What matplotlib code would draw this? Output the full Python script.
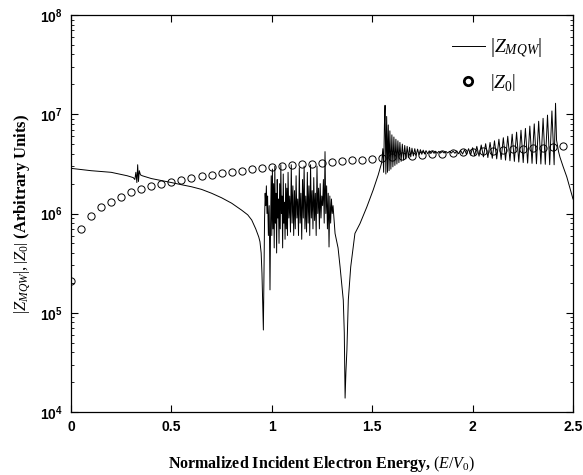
import numpy as np
import matplotlib
matplotlib.use("Agg")
import matplotlib.pyplot as plt
from matplotlib.lines import Line2D
from matplotlib.ticker import LogLocator, NullFormatter, FixedLocator

# ---------------- data ----------------
# |Z_0| open circles
z0_energy = [0.00, 0.05, 0.10, 0.15, 0.20, 0.25, 0.30, 0.35, 0.40, 0.45,
             0.50, 0.55, 0.60, 0.65, 0.70, 0.75, 0.80, 0.85, 0.90, 0.95,
             1.00, 1.05, 1.10, 1.15, 1.20, 1.25, 1.30, 1.35, 1.40, 1.45,
             1.50, 1.55, 1.60, 1.65, 1.70, 1.75, 1.80, 1.85, 1.90, 1.95,
             2.00, 2.05, 2.10, 2.15, 2.20, 2.25, 2.30, 2.35, 2.40, 2.45]
z0_values = [2.1e5, 6.9e5, 9.5e5, 1.15e6, 1.32e6, 1.48e6, 1.63e6, 1.76e6, 1.88e6, 1.99e6,
             2.09e6, 2.2e6, 2.3e6, 2.4e6, 2.47e6, 2.55e6, 2.63e6, 2.7e6, 2.8e6, 2.85e6,
             2.95e6, 3.0e6, 3.06e6, 3.12e6, 3.18e6, 3.24e6, 3.3e6, 3.36e6, 3.42e6, 3.5e6,
             3.57e6, 3.63e6, 3.7e6, 3.76e6, 3.82e6, 3.88e6, 3.94e6, 4.0e6, 4.06e6, 4.12e6,
             4.18e6, 4.24e6, 4.3e6, 4.36e6, 4.42e6, 4.5e6, 4.56e6, 4.62e6, 4.7e6, 4.8e6]

# |Z_MQW| : smooth part with small glitch, down to first dip
mqw_e_low = [0.00, 0.10, 0.20, 0.28, 0.310, 0.318, 0.323, 0.328, 0.332, 0.336,
             0.340, 0.346, 0.355, 0.40, 0.45, 0.50, 0.55, 0.60,
             0.65, 0.70, 0.75, 0.80, 0.85, 0.88, 0.90, 0.92, 0.935, 0.941,
             0.947, 0.951, 0.955, 0.958]
mqw_z_low = [2.85e6, 2.7e6, 2.6e6, 2.4e6, 2.3e6, 2.2e6, 2.6e6, 2.05e6, 3.1e6, 2.1e6,
             2.7e6, 2.45e6, 2.4e6, 2.25e6, 2.15e6, 2.05e6, 1.95e6, 1.86e6,
             1.75e6, 1.6e6, 1.44e6, 1.27e6, 1.08e6, 9.7e5, 8.6e5, 7.0e5, 5.8e5, 5.2e5,
             4.0e5, 2.5e5, 1.2e5, 6.7e4]

# |Z_MQW| : irregular oscillations between the two dips
mqw_e_noise = [0.961, 0.964, 0.967, 0.970, 0.973, 0.976, 0.979, 0.983, 0.987, 0.991,
               0.994, 0.997, 1.000, 1.003, 1.006, 1.009, 1.012, 1.015, 1.018, 1.021,
               1.024, 1.027, 1.030, 1.033, 1.036, 1.039, 1.042, 1.045, 1.048, 1.051,
               1.054, 1.057, 1.060, 1.063, 1.066, 1.069, 1.072, 1.075, 1.078, 1.081,
               1.085, 1.089, 1.093, 1.097, 1.101, 1.105, 1.109, 1.113, 1.117, 1.121,
               1.125, 1.129, 1.133, 1.137, 1.141, 1.145, 1.149, 1.153, 1.157, 1.161,
               1.165, 1.169, 1.173, 1.177, 1.181, 1.185, 1.189, 1.193, 1.197, 1.201,
               1.205, 1.209, 1.213, 1.217, 1.221, 1.225, 1.229, 1.233, 1.237, 1.241,
               1.245, 1.249, 1.253, 1.257, 1.261, 1.265, 1.269, 1.273, 1.277, 1.281,
               1.285, 1.289, 1.293, 1.297, 1.301, 1.305]
mqw_z_noise = [2.5e5, 9e5, 1.6e6, 1.2e6, 1.9e6, 1.0e6, 1.5e6, 6e5, 1.2e6, 1.7e5,
               8e5, 2.4e6, 6e5, 2.8e6, 7e5, 2.0e6, 4.5e5, 3.0e6, 8e5, 1.6e6,
               4e5, 2.2e6, 9e5, 1.4e6, 5e5, 2.0e6, 7e5, 3.1e6, 1.0e6, 1.5e6,
               4.5e5, 2.5e6, 8e5, 1.3e6, 5.5e5, 2.0e6, 7e5, 1.8e6, 6e5, 2.6e6,
               9e5, 1.5e6, 6.5e5, 3.1e6, 8e5, 1.9e6, 6e5, 1.7e6, 7e5, 2.4e6,
               9e5, 1.4e6, 6e5, 2.9e6, 8e5, 1.6e6, 5.5e5, 2.2e6, 9e5, 3.0e6,
               7e5, 1.5e6, 6.5e5, 2.6e6, 8e5, 1.9e6, 6e5, 3.1e6, 9e5, 1.7e6,
               7e5, 2.3e6, 8.5e5, 1.6e6, 6e5, 3.0e6, 1.0e6, 1.8e6, 7e5, 2.0e6,
               9e5, 1.5e6, 1.2e6, 2.2e6, 8e5, 4.2e6, 1.0e6, 1.9e6, 7e5, 1.6e6,
               4.6e5, 1.5e6, 8e5, 1.4e6, 1.0e6, 1.2e6]

# |Z_MQW| : second (deep) dip and rise
mqw_e_dip2 = [1.315, 1.330, 1.340, 1.356, 1.361, 1.365, 1.369, 1.374, 1.381, 1.393,
              1.414, 1.439, 1.473, 1.505, 1.530, 1.547]
mqw_z_dip2 = [6.3e5, 4.5e5, 2.9e5, 1.34e5, 6.3e4, 1.38e4, 2.5e4, 4.2e4, 1.34e5, 2.9e5,
              6.3e5, 7.9e5, 1.16e6, 1.73e6, 2.45e6, 3.24e6]

# |Z_MQW| : regular oscillations above the barrier
mqw_e_osc = [1.553, 1.557, 1.561, 1.564, 1.568, 1.572, 1.576, 1.580, 1.584, 1.588,
             1.593, 1.598, 1.603, 1.608, 1.613, 1.618, 1.623, 1.628, 1.633, 1.638,
             1.644, 1.650, 1.656, 1.662, 1.668, 1.674, 1.680, 1.686, 1.692, 1.698,
             1.705, 1.712, 1.719, 1.726, 1.733, 1.740, 1.747, 1.754, 1.761, 1.768,
             1.776, 1.784, 1.792, 1.800, 1.808, 1.816, 1.824, 1.832, 1.840, 1.849,
             1.858, 1.867, 1.876, 1.885, 1.894, 1.903, 1.912, 1.921, 1.930, 1.940,
             1.950, 1.960, 1.970, 1.980, 1.990, 2.000, 2.010, 2.021, 2.032, 2.043,
             2.054, 2.065, 2.076, 2.087, 2.098, 2.109, 2.120, 2.131, 2.142, 2.153,
             2.164, 2.175, 2.186, 2.197, 2.208, 2.219, 2.230, 2.241, 2.252, 2.263,
             2.274, 2.285, 2.296, 2.307, 2.318, 2.329, 2.340, 2.351, 2.362, 2.373,
             2.384, 2.395, 2.406, 2.413]
mqw_z_osc = [4.5e6, 2.6e6, 8e6, 1.23e7, 2.5e6, 9.5e6, 2.6e6, 7.8e6, 2.7e6, 6.8e6,
             2.8e6, 6.2e6, 2.95e6, 5.9e6, 3.05e6, 5.6e6, 3.15e6, 5.4e6, 3.25e6, 5.2e6,
             3.35e6, 5.0e6, 3.45e6, 4.85e6, 3.55e6, 4.75e6, 3.65e6, 4.65e6, 3.72e6, 4.55e6,
             3.8e6, 4.5e6, 3.85e6, 4.45e6, 3.9e6, 4.4e6, 3.95e6, 4.35e6, 3.98e6, 4.3e6,
             4.0e6, 4.28e6, 4.02e6, 4.25e6, 4.04e6, 4.24e6, 4.05e6, 4.23e6, 4.06e6, 4.22e6,
             4.07e6, 4.22e6, 4.07e6, 4.23e6, 4.06e6, 4.25e6, 4.04e6, 4.28e6, 4.0e6, 4.33e6,
             3.97e6, 4.4e6, 3.93e6, 4.5e6, 3.88e6, 4.6e6, 3.83e6, 4.75e6, 3.78e6, 4.9e6,
             3.72e6, 5.05e6, 3.66e6, 5.2e6, 3.6e6, 5.4e6, 3.55e6, 5.6e6, 3.5e6, 5.8e6,
             3.45e6, 6.0e6, 3.4e6, 6.3e6, 3.35e6, 6.6e6, 3.3e6, 6.9e6, 3.26e6, 7.2e6,
             3.22e6, 7.6e6, 3.2e6, 8.0e6, 3.17e6, 8.5e6, 3.15e6, 9.1e6, 3.13e6, 9.8e6,
             3.1e6, 1.08e7, 3.1e6, 1.29e7]

# |Z_MQW| : tail
mqw_e_tail = [2.418, 2.428, 2.435, 2.450, 2.469, 2.485, 2.500]
mqw_z_tail = [5.5e6, 4.2e6, 3.7e6, 3.0e6, 2.34e6, 1.8e6, 1.4e6]

x_ticks = [0, 0.5, 1, 1.5, 2, 2.5]
x_tick_labels = ["0", "0.5", "1", "1.5", "2", "2.5"]

# ---------------- plotting ----------------
mqw_e = mqw_e_low + mqw_e_noise + mqw_e_dip2 + mqw_e_osc + mqw_e_tail
mqw_z = mqw_z_low + mqw_z_noise + mqw_z_dip2 + mqw_z_osc + mqw_z_tail

plt.rcParams["mathtext.fontset"] = "custom"
plt.rcParams["mathtext.rm"] = "Liberation Serif"
plt.rcParams["mathtext.it"] = "Liberation Serif:italic"
plt.rcParams["mathtext.bf"] = "Liberation Serif:bold"

fig = plt.figure(figsize=(5.83, 4.75), dpi=100)
ax = fig.add_axes([71/583, 1-412/475, (573-71)/583, (412-15)/475])

ax.plot(mqw_e, mqw_z, color="black", lw=0.7)
ax.plot(z0_energy, z0_values, linestyle="none", marker="o", ms=5.2,
        mfc="none", mec="black", mew=0.7)

ax.set_yscale("log")
ax.set_xlim(0, 2.5)
ax.set_ylim(1e4, 1e8)
ax.set_xticks(x_ticks)
ax.set_xticklabels(x_tick_labels)
ax.yaxis.set_major_locator(FixedLocator([1e4, 1e5, 1e6, 1e7, 1e8]))
ax.yaxis.set_minor_locator(LogLocator(base=10, subs=np.arange(2, 10)))
ax.yaxis.set_minor_formatter(NullFormatter())

ax.tick_params(which="both", direction="in", top=True, right=True)
ax.tick_params(which="major", length=5, width=0.8, labelsize=10, pad=6)
ax.tick_params(which="minor", length=2.5, width=0.6)
for lab in ax.get_xticklabels() + ax.get_yticklabels():
    lab.set_fontweight("bold")
    lab.set_family(["Liberation Sans", "DejaVu Sans"])
for sp in ax.spines.values():
    sp.set_linewidth(0.9)

ax.set_xlabel(r"Normalized Incident Electron Energy, $(E/V_0)$",
              fontsize=11.5, fontweight="bold", family="Liberation Serif", labelpad=14)
ax.set_ylabel(r"$\left|Z_{MQW}\right|,\left|Z_0\right|$ (Arbitrary Units)",
              fontsize=12, fontweight="bold", family="Liberation Serif", labelpad=5)

handles = [Line2D([], [], color="black", lw=0.7),
           Line2D([], [], linestyle="none", marker="o", ms=6, mfc="white",
                  mec="black", mew=2)]
leg = ax.legend(handles, [r"$\left|Z_{MQW}\right|$", r"$\left|Z_0\right|$"],
                loc="upper right", bbox_to_anchor=(0.975, 0.99), frameon=False,
                fontsize=14, handlelength=1.7, handletextpad=0.3, labelspacing=0.6)

fig.savefig("out.png", dpi=100)
